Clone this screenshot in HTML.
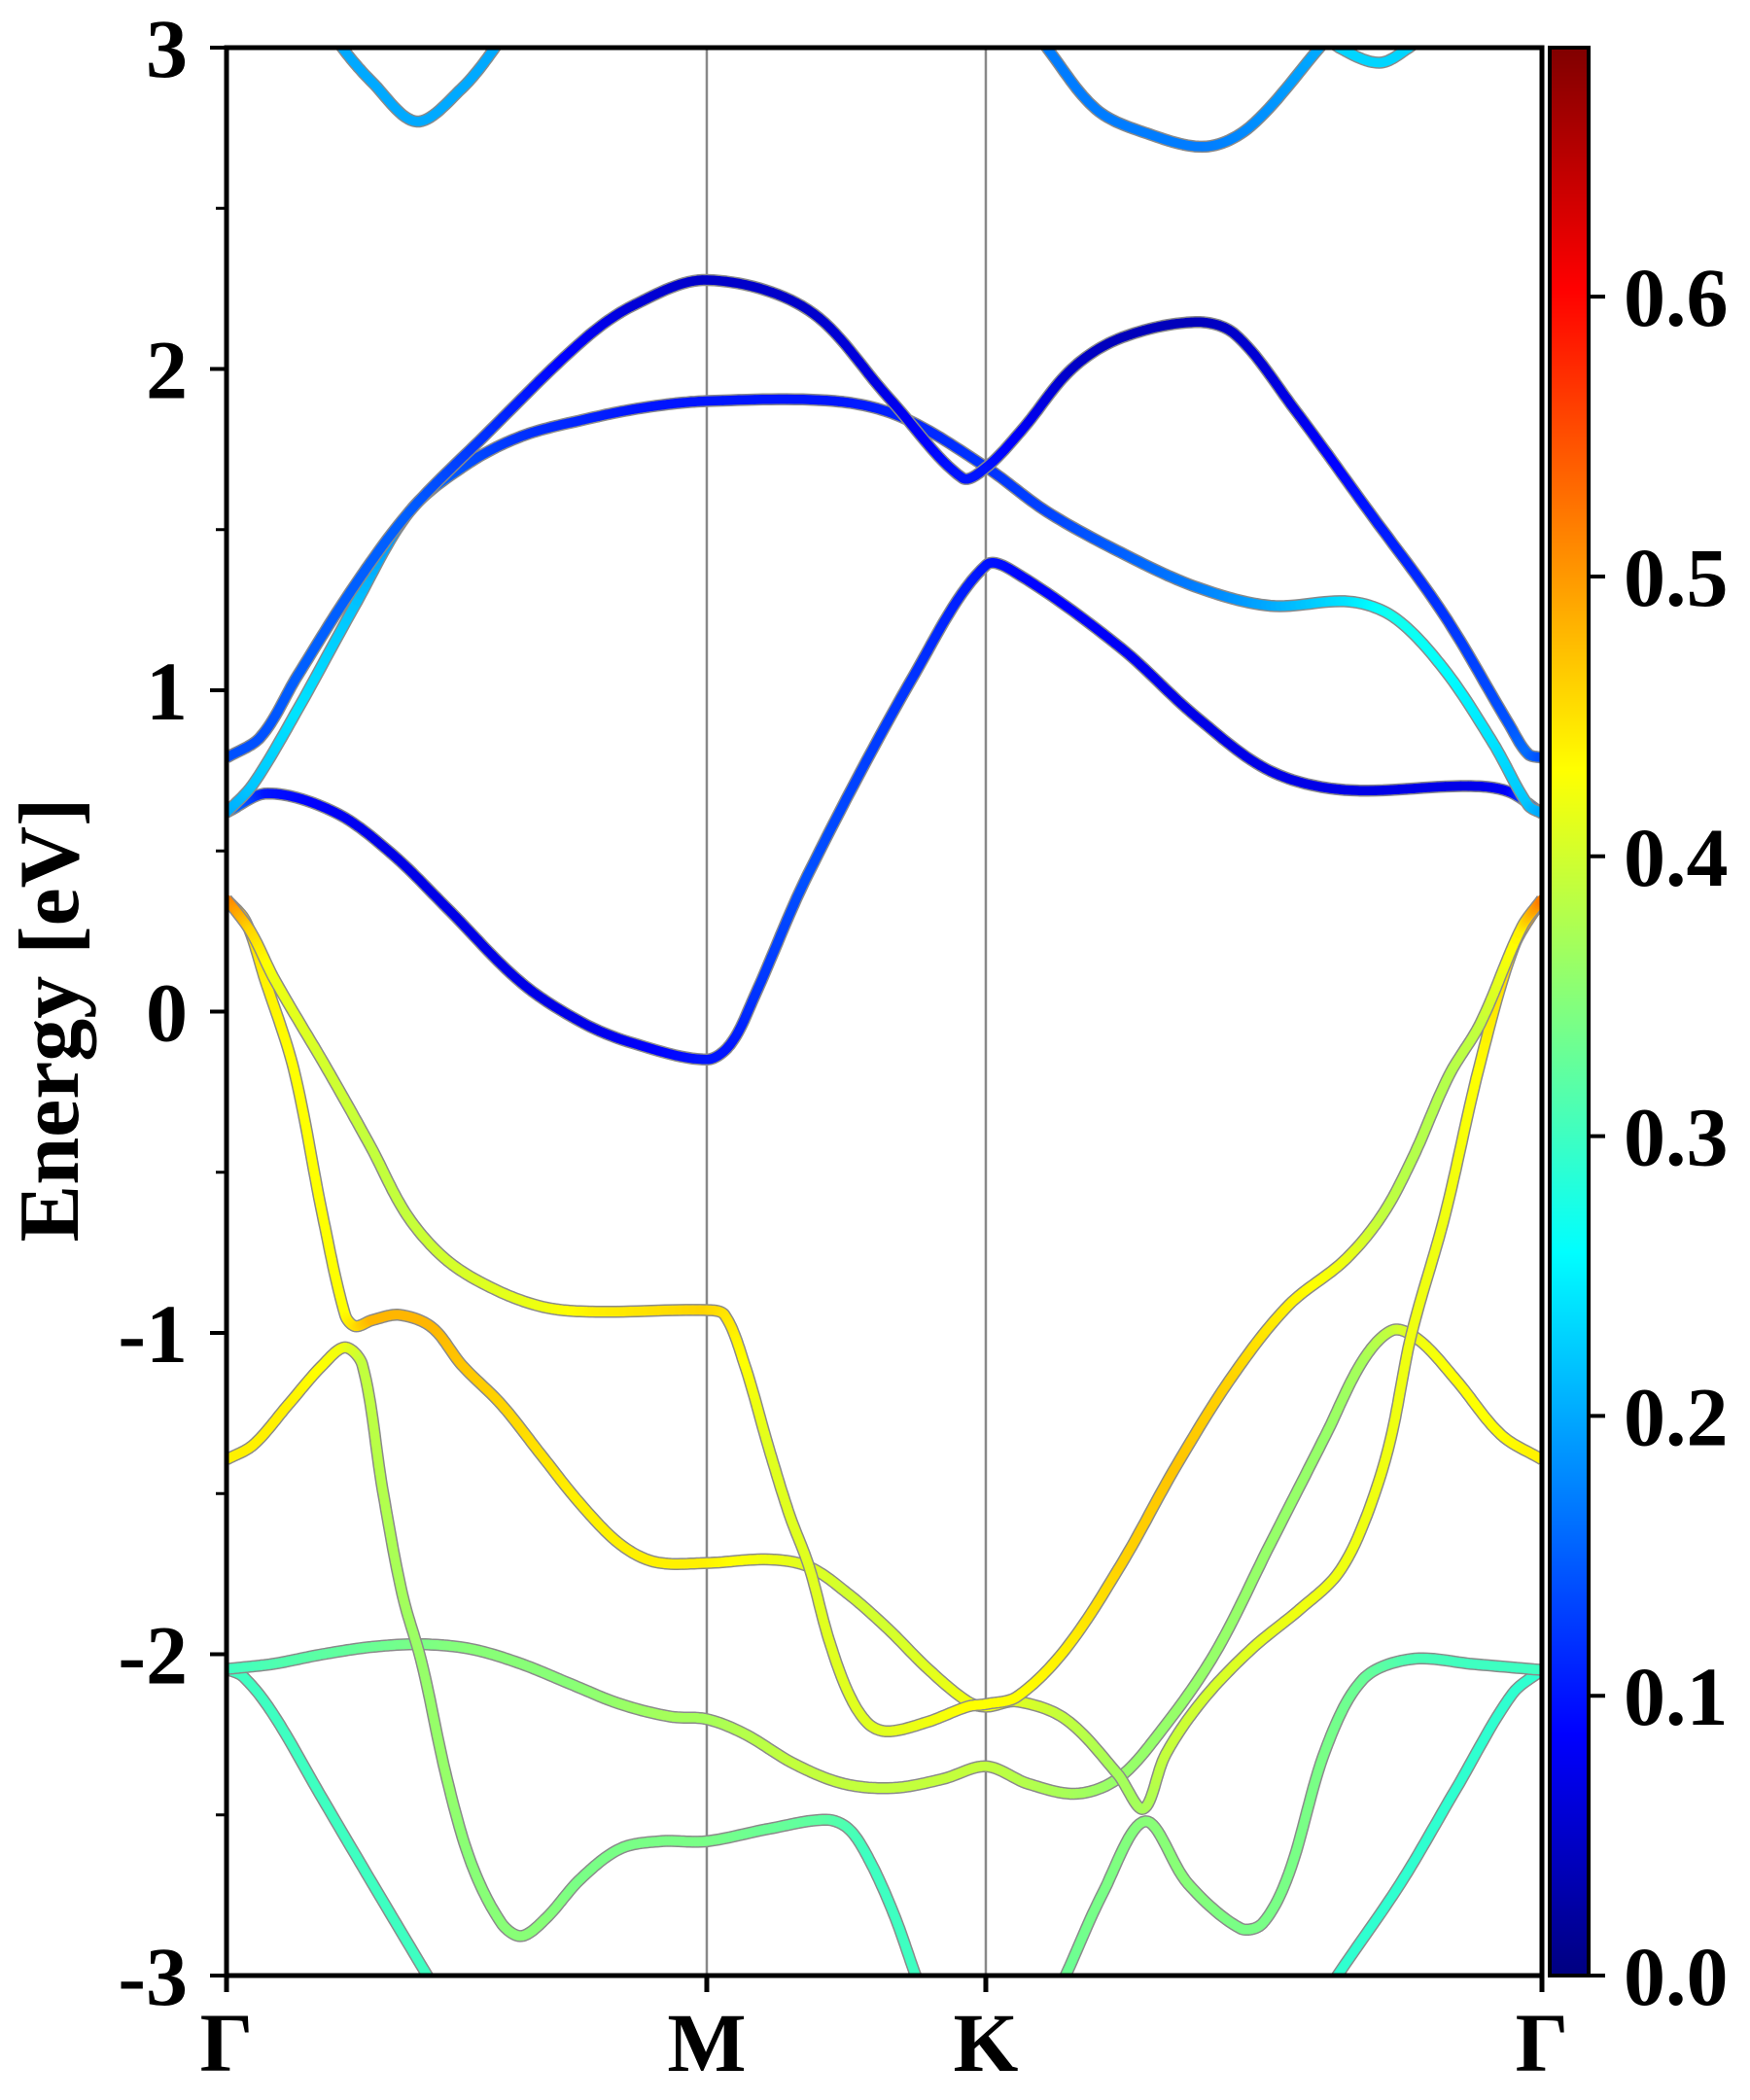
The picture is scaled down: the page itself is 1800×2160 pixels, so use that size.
<!DOCTYPE html>
<html><head><meta charset="utf-8"><title>Band structure</title>
<style>
html,body{margin:0;padding:0;background:#fff;}
svg{display:block;}
text{font-family:"Liberation Serif","Times New Roman",serif;font-weight:bold;fill:#000;}
</style></head>
<body>
<svg id="chart" xmlns="http://www.w3.org/2000/svg" width="1800" height="2160" viewBox="0 0 1800 2160">
<defs>
<clipPath id="plotclip"><rect x="233" y="49" width="1353" height="1983"/></clipPath>
<linearGradient id="jetgrad" x1="0" y1="1" x2="0" y2="0"></linearGradient>
</defs>
<g id="bands" clip-path="url(#plotclip)"></g>
<g id="axes"></g>
<g id="cbar"></g>
<text transform="translate(80,1049) rotate(-90)" text-anchor="middle" font-size="88">Energy [eV]</text>
</svg>
<script>
// ---- data ----
const kTickLabels = ["Γ","M","K","Γ"];
const kTickPos = [0, 1, 1.581, 2.739];
const eTicks = [3,2,1,0,-1,-2,-3];
const eTickLabels = ["3","2","1","0","-1","-2","-3"];
const cbTicks = [0,0.1,0.2,0.3,0.4,0.5,0.6];
const cbTickLabels = ["0.0","0.1","0.2","0.3","0.4","0.5","0.6"];
const wMax = 0.689;

const cb1K = [0,.086,.226,.342,.458,.613,.743,.85,1,1.05,1.1,1.21,1.434,1.582,1.656,1.863,2.018,2.173,2.328,2.586,2.669,2.739];
const cb1E = [.62,.679,.62,.494,.324,.091,-.036,-.1,-.149,-.1,.05,.425,1.054,1.39,1.354,1.131,.919,.749,.69,.702,.685,.617];
const cb1W = [.18,.1,.08,.07,.07,.07,.07,.08,.1,.1,.12,.14,.12,.1,.09,.08,.07,.07,.07,.07,.08,.18];

const cb2K = [0,.055,.148,.265,.381,.497,.613,.743,.87,1,1.266,1.406,1.582,1.708,1.863,2.018,2.173,2.338,2.431,2.534,2.638,2.71,2.739];
const cb2E = [.62,.707,.94,1.258,1.556,1.70,1.79,1.842,1.88,1.9,1.9,1.85,1.694,1.556,1.428,1.322,1.263,1.276,1.227,1.068,.834,.643,.617];
const cb2W = [.2,.22,.24,.22,.18,.14,.12,.11,.1,.1,.1,.11,.12,.13,.15,.17,.2,.24,.27,.26,.24,.22,.2];

const cb3K = [0,.071,.148,.265,.381,.536,.743,.85,1,1.21,1.378,1.532,1.582,1.656,1.76,1.863,2.018,2.1,2.224,2.379,2.534,2.669,2.71,2.739];
const cb3E = [.79,.855,1.046,1.322,1.556,1.79,2.09,2.2,2.277,2.185,1.912,1.661,1.694,1.81,2.0,2.097,2.146,2.108,1.874,1.556,1.237,.898,.802,.79];
const cb3W = [.14,.14,.15,.15,.15,.12,.08,.06,.05,.05,.07,.1,.1,.08,.05,.04,.04,.05,.07,.1,.12,.14,.16,.14];

const top1K = [.2,.241,.303,.396,.489,.559,.6];
const top1E = [3.1,3.0,2.893,2.77,2.872,3.0,3.1];
const top1W = [.2,.2,.2,.2,.2,.2,.2];

const top2K = [1.66,1.708,1.811,1.915,2.039,2.132,2.276,2.32];
const top2E = [3.1,3.0,2.808,2.734,2.692,2.755,3.0,3.08];
const top2W = [.17,.17,.17,.17,.17,.18,.2,.2];

const top3K = [2.28,2.317,2.4,2.462,2.5];
const top3E = [3.05,3.0,2.953,3.0,3.05];
const top3W = [.23,.23,.23,.23,.23];

const v1K = [0,.05,.1,.21,.3,.376,.459,.562,.665,.769,1,1.037,1.079,1.13,1.172,1.213,1.254,1.296,1.337,1.378,1.461,1.543,1.582,1.646,1.747,1.863,1.979,2.096,2.212,2.328,2.406,2.47,2.545,2.611,2.696,2.739];
const v1E = [.35,.25,.1,-.18,-.42,-.634,-.774,-.867,-.921,-.934,-.929,-.944,-1.10,-1.363,-1.565,-1.728,-1.953,-2.124,-2.217,-2.24,-2.21,-2.163,-2.155,-2.132,-1.984,-1.72,-1.41,-1.131,-.913,-.774,-.634,-.455,-.2,-.036,.26,.35];
const v1W = [.52,.46,.42,.4,.39,.39,.4,.41,.42,.44,.46,.45,.43,.41,.41,.41,.41,.41,.41,.41,.42,.43,.43,.43,.44,.46,.47,.46,.44,.42,.39,.38,.38,.39,.44,.52];

const v2K = [0,.04,.08,.14,.2,.247,.268,.304,.361,.428,.49,.573,.655,.738,.82,.893,1,1.13,1.213,1.296,1.378,1.461,1.543,1.582,1.646,1.747,1.855,1.909,1.956,2.034,2.134,2.235,2.313,2.367,2.421,2.467,2.537,2.607,2.68,2.739];
const v2E = [.35,.28,.1,-.18,-.634,-.944,-.979,-.96,-.944,-.983,-1.10,-1.224,-1.379,-1.534,-1.658,-1.713,-1.716,-1.705,-1.728,-1.814,-1.922,-2.046,-2.147,-2.163,-2.147,-2.202,-2.372,-2.481,-2.31,-2.14,-1.984,-1.86,-1.751,-1.596,-1.348,-1.006,-.634,-.18,.2,.35];
const v2W = [.52,.46,.44,.43,.43,.43,.45,.48,.48,.48,.47,.46,.45,.44,.44,.44,.44,.42,.41,.4,.4,.41,.42,.42,.41,.39,.37,.37,.39,.4,.41,.42,.42,.42,.42,.42,.42,.43,.46,.52];

const v3K = [0,.056,.128,.2,.247,.283,.325,.366,.407,.459,.51,.573,.614,.665,.738,.82,.903,1,1.13,1.249,1.295,1.337,1.389,1.435,1.46];
const v3E = [-1.394,-1.348,-1.224,-1.10,-1.045,-1.10,-1.488,-1.813,-2.03,-2.388,-2.652,-2.838,-2.877,-2.822,-2.698,-2.605,-2.582,-2.582,-2.543,-2.515,-2.543,-2.636,-2.807,-3.0,-3.1];
const v3W = [.44,.44,.44,.43,.42,.39,.38,.37,.36,.36,.35,.35,.35,.35,.34,.34,.34,.34,.33,.32,.31,.3,.3,.3,.3];

const v4K = [0,.097,.2,.304,.407,.51,.614,.717,.82,.924,1,1.079,1.182,1.285,1.389,1.492,1.582,1.669,1.77,1.855,1.941,2.057,2.173,2.289,2.367,2.429,2.483,2.56,2.654,2.739];
const v4E = [-2.046,-2.03,-2.0,-1.977,-1.969,-1.984,-2.03,-2.093,-2.155,-2.194,-2.202,-2.248,-2.341,-2.403,-2.416,-2.388,-2.349,-2.403,-2.434,-2.388,-2.248,-2.0,-1.658,-1.317,-1.084,-.991,-1.022,-1.146,-1.317,-1.394];
const v4W = [.3,.31,.32,.33,.34,.35,.35,.35,.36,.37,.37,.38,.39,.39,.39,.39,.39,.38,.37,.36,.36,.36,.36,.36,.37,.39,.42,.43,.43,.44];

const v5K = [0,.035,.097,.2,.304,.418,.45];
const v5E = [-2.046,-2.07,-2.186,-2.45,-2.714,-3.0,-3.08];
const v5W = [.3,.3,.3,.3,.3,.3,.3];

const v6K = [1.72,1.747,1.824,1.913,2.002,2.111,2.157,2.212,2.289,2.367,2.467,2.599,2.739];
const v6E = [-3.08,-3.0,-2.745,-2.52,-2.714,-2.853,-2.838,-2.683,-2.295,-2.077,-2.015,-2.031,-2.049];
const v6W = [.33,.33,.34,.35,.35,.34,.34,.34,.34,.33,.31,.3,.3];

const v7K = [2.739,2.677,2.56,2.444,2.313,2.28];
const v7E = [-2.049,-2.124,-2.419,-2.714,-3.0,-3.08];
const v7W = [.29,.29,.29,.29,.29,.29];

// ---- axes ----
const X0=233, X1=1586, Y0=49, Y1=2032;
const kMax = 2.739, eMin=-3, eMax=3;
function xs(k){ return X0 + (k/kMax)*(X1-X0); }
function ys(e){ return Y1 - (e-eMin)/(eMax-eMin)*(Y1-Y0); }
function cs(w){ return Y1 - (w/wMax)*(Y1-Y0); }
function jet(w){
  const t=Math.max(0,Math.min(1,w/wMax));
  const c=v=>Math.round(255*Math.max(0,Math.min(1,v)));
  return `rgb(${c(Math.min(4*t-1.5,-4*t+4.5))},${c(Math.min(4*t-0.5,-4*t+3.5))},${c(Math.min(4*t+0.5,-4*t+2.5))})`;
}
const NS="http://www.w3.org/2000/svg";
function mk(tag,attrs,parent){const e=document.createElementNS(NS,tag);for(const a in attrs)e.setAttribute(a,attrs[a]);parent.appendChild(e);return e;}

const bandsG=document.getElementById('bands');
const axesG=document.getElementById('axes');
const cbarG=document.getElementById('cbar');

[1,2].forEach(i=>{
  const l=mk('line',{x1:xs(kTickPos[i]),x2:xs(kTickPos[i]),y1:Y0,y2:Y1,stroke:'#888',"stroke-width":2.5},bandsG);
  
  
});

function drawBand(name,K,E,W){
  const g=mk('g',{},bandsG);
  
  
  const P=K.map((k,i)=>[xs(k),ys(E[i]),W[i]]);
  const pts=[];
  const n=P.length, S=16;
  for(let i=0;i<n-1;i++){
    const p0=P[Math.max(0,i-1)],p1=P[i],p2=P[i+1],p3=P[Math.min(n-1,i+2)];
    // centripetal-like tangent scaling to avoid wobble with uneven spacing
    const d=(a,b)=>Math.hypot(b[0]-a[0],b[1]-a[1])||1;
    const d01=d(p0,p1),d12=d(p1,p2),d23=d(p2,p3);
    const m1=[0,1].map(j=>(p2[j]-p0[j])/(d01+d12)*d12);
    const m2=[0,1].map(j=>(p3[j]-p1[j])/(d12+d23)*d12);
    for(let s=0;s<S;s++){
      const t=s/S,t2=t*t,t3=t2*t;
      const h00=2*t3-3*t2+1,h10=t3-2*t2+t,h01=-2*t3+3*t2,h11=t3-t2;
      pts.push([h00*p1[0]+h10*m1[0]+h01*p2[0]+h11*m2[0],h00*p1[1]+h10*m1[1]+h01*p2[1]+h11*m2[1],p1[2]+(p2[2]-p1[2])*t]);
    }
  }
  pts.push(P[n-1]);
  mk('polyline',{points:pts.map(p=>p[0].toFixed(1)+','+p[1].toFixed(1)).join(' '),fill:'none',stroke:'#8a8a8a','stroke-width':12.5,'stroke-linejoin':'round'},g);
  for(let i=0;i<pts.length-1;i++){
    mk('line',{x1:pts[i][0].toFixed(1),y1:pts[i][1].toFixed(1),x2:pts[i+1][0].toFixed(1),y2:pts[i+1][1].toFixed(1),stroke:jet((pts[i][2]+pts[i+1][2])/2),'stroke-width':9.5,'stroke-linecap':'round'},g);
  }
}
drawBand('band-top-1',top1K,top1E,top1W);
drawBand('band-top-2',top2K,top2E,top2W);
drawBand('band-top-3',top3K,top3E,top3W);
drawBand('band-v7',v7K,v7E,v7W);
drawBand('band-v6',v6K,v6E,v6W);
drawBand('band-v5',v5K,v5E,v5W);
drawBand('band-v4',v4K,v4E,v4W);
drawBand('band-v3',v3K,v3E,v3W);
drawBand('band-v2',v2K,v2E,v2W);
drawBand('band-v1',v1K,v1E,v1W);
drawBand('band-cb1',cb1K,cb1E,cb1W);
drawBand('band-cb2',cb2K,cb2E,cb2W);
drawBand('band-cb3',cb3K,cb3E,cb3W);

const fr=mk('rect',{x:X0,y:Y0,width:X1-X0,height:Y1-Y0,fill:'none',stroke:'#000','stroke-width':5},axesG);


eTicks.forEach((e,i)=>{
  mk('line',{x1:X0-17,x2:X0,y1:ys(e),y2:ys(e),stroke:'#000','stroke-width':4},axesG);
  const t=mk('text',{x:193,y:ys(e)+30,'text-anchor':'end','font-size':86},axesG);
  t.textContent=eTickLabels[i];
  
  
  if(i<eTicks.length-1){
    const m=(e+eTicks[i+1])/2;
    mk('line',{x1:X0-11,x2:X0,y1:ys(m),y2:ys(m),stroke:'#000','stroke-width':3},axesG);
  }
});
kTickPos.forEach((k,i)=>{
  mk('line',{x1:xs(k),x2:xs(k),y1:Y1,y2:Y1+17,stroke:'#000','stroke-width':5},axesG);
  const t=mk('text',{x:xs(k),y:2130,'text-anchor':'middle','font-size':86},axesG);
  t.textContent=kTickLabels[i];
  
  
});

const grad=document.getElementById('jetgrad');
for(let i=0;i<=40;i++){
  mk('stop',{offset:(i/40).toFixed(3),'stop-color':jet(wMax*i/40)},grad);
}
const cbr=mk('rect',{x:1594,y:Y0,width:40,height:Y1-Y0,fill:'url(#jetgrad)',stroke:'#000','stroke-width':4},cbarG);


cbTicks.forEach((w,i)=>{
  mk('line',{x1:1634,x2:1651,y1:cs(w),y2:cs(w),stroke:'#000','stroke-width':4},cbarG);
  const t=mk('text',{x:1670,y:cs(w)+30,'font-size':86},cbarG);
  t.textContent=cbTickLabels[i];
  
  
});
</script>
</body></html>
